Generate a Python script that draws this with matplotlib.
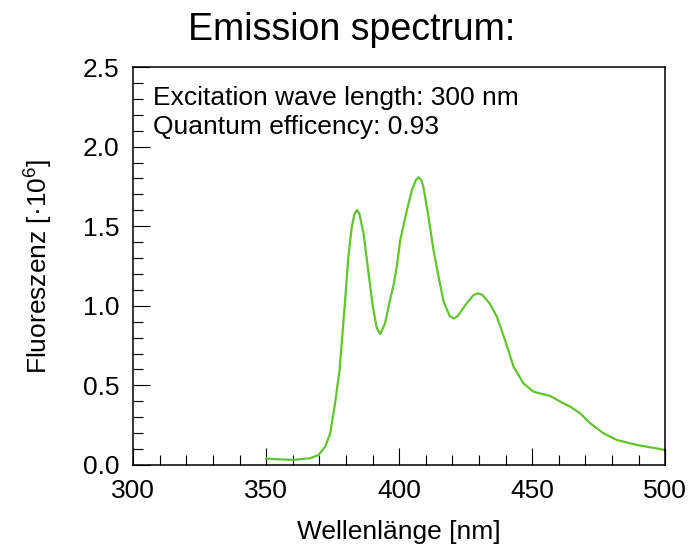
import matplotlib
matplotlib.use('Agg')
import matplotlib.pyplot as plt
from matplotlib.ticker import MultipleLocator

plt.rcParams['font.family'] = ['Liberation Sans', 'DejaVu Sans']
plt.rcParams['mathtext.fontset'] = 'custom'
plt.rcParams['mathtext.rm'] = 'Liberation Sans'
plt.rcParams['mathtext.it'] = 'Liberation Sans'

# Wellenlänge in nm, Fluoreszenz in 10^6
wellenlaenge = [350, 355, 360, 362.8, 366.5, 369.7, 372.2, 374.1, 375.9, 377.6, 378.8,
                379.7, 380.9, 382.2, 383.2, 384.1, 385.0, 386.6, 388.5, 390.1, 391.6, 392.9,
                394.7, 396.6, 397.9, 399.1, 400.4, 402.9, 404.8, 406.3, 407.3, 408.3, 409.1,
                411.0, 412.9, 414.8, 416.7, 419.0, 420.5, 422.0, 425.4, 428.0, 429.7, 431.3,
                434.2, 436.7, 439.8, 443.0, 446.7, 450.5, 456.8, 461.8, 464.3, 468.0, 471.8,
                476.8, 481.8, 489.3, 500]
fluoreszenz = [0.04, 0.035, 0.032, 0.036, 0.042, 0.063, 0.115, 0.199, 0.388, 0.597, 0.848,
               1.036, 1.308, 1.497, 1.575, 1.602, 1.58, 1.455, 1.204, 0.994, 0.858, 0.823,
               0.89, 1.04, 1.131, 1.246, 1.413, 1.60, 1.727, 1.79, 1.807, 1.79, 1.748,
               1.56, 1.35, 1.183, 1.026, 0.935, 0.92, 0.935, 1.016, 1.068, 1.078, 1.068,
               1.01, 0.932, 0.785, 0.617, 0.513, 0.46, 0.433, 0.387, 0.366, 0.325, 0.262,
               0.199, 0.157, 0.126, 0.094]

fig = plt.figure(figsize=(6.9, 5.47), dpi=100)
ax = fig.add_axes([0.193, 0.150, 0.771, 0.7275])

ax.plot(wellenlaenge, fluoreszenz, color='#62c42e', linewidth=1.6)

ax.set_xlim(300, 500)
ax.set_ylim(0, 2.5)
ax.xaxis.set_major_locator(MultipleLocator(50))
ax.xaxis.set_minor_locator(MultipleLocator(10))
ax.yaxis.set_major_locator(MultipleLocator(0.5))
ax.yaxis.set_minor_locator(MultipleLocator(0.1))
ax.yaxis.set_major_formatter(plt.FormatStrFormatter('%.1f'))
ax.tick_params(which='both', direction='in', top=False, right=False, labelsize=19, width=0.8)
ax.tick_params(which='major', length=12, pad=10)
ax.tick_params(which='minor', length=7)
for s in ax.spines.values():
    s.set_linewidth(1.1)

ax.set_xlabel('Wellenlänge [nm]', fontsize=19, labelpad=12)
ax.set_ylabel(r'Fluoreszenz [·10$^{6}$]', fontsize=19, labelpad=20)
fig.text(0.509, 0.945, 'Emission spectrum:', fontsize=27, ha='center', va='center')

ax.text(0.037, 0.953, 'Excitation wave length: 300 nm\nQuantum efficency: 0.93',
        transform=ax.transAxes, fontsize=19, va='top', ha='left', linespacing=1.3)

fig.savefig('out.png', dpi=100)
